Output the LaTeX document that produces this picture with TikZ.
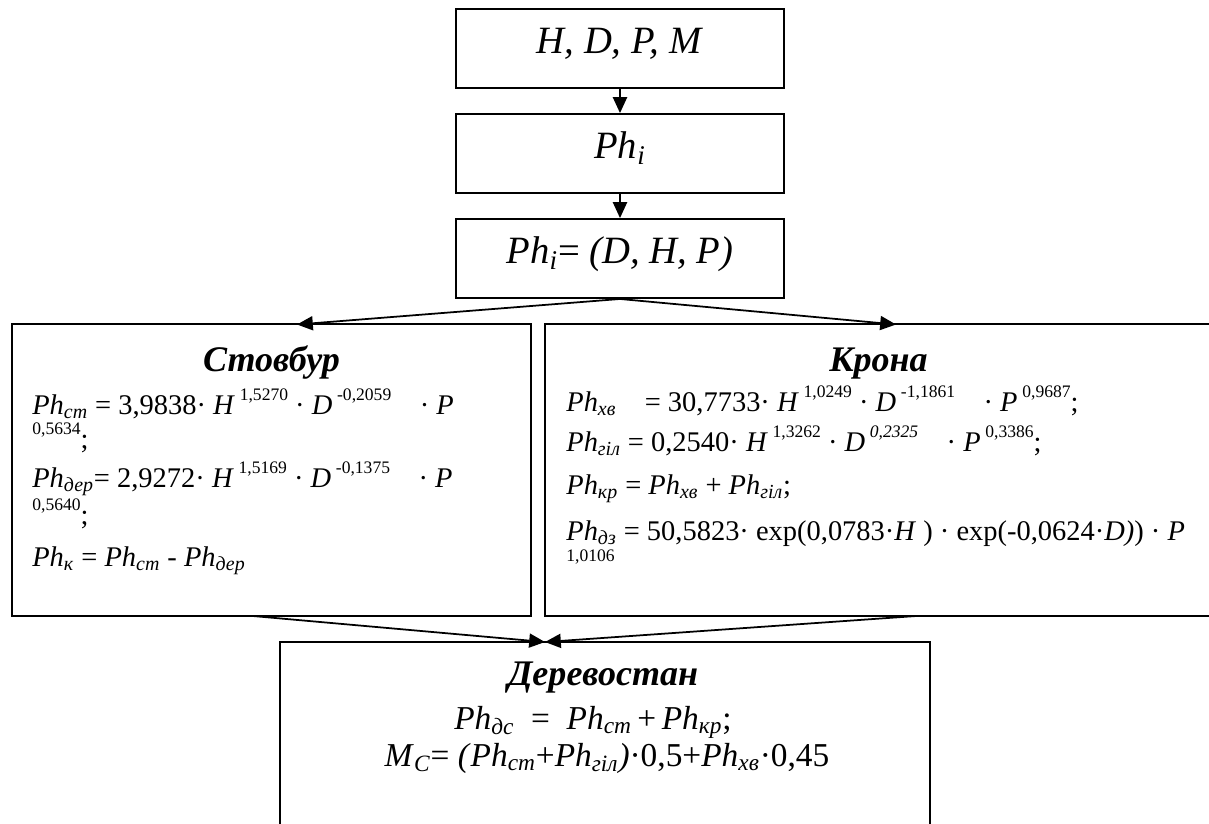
\documentclass[tikz,border=0pt]{standalone}
\usepackage{fontspec}
\setmainfont{Liberation Serif}
\usetikzlibrary{arrows.meta}

\newcommand{\Ph}[1]{\textit{Ph}\textsubscript{\textit{#1}}}
\newcommand{\pw}[1]{\raisebox{0.48em}{\fontsize{10}{12}\selectfont #1}}

\tikzset{
  block/.style={draw, line width=1.1pt, rectangle, inner sep=0pt},
  topblock/.style={block, minimum width=6.56cm, minimum height=1.58cm, font=\fontsize{22}{26}\selectfont, text height=13pt, text depth=7pt},
  heading/.style={anchor=base, inner sep=0pt, font=\fontsize{20.5}{24}\selectfont\bfseries\itshape},
  formula/.style={anchor=base west, inner sep=0pt, font=\fontsize{16.2}{20}\selectfont},
  flow/.style={draw, line width=1pt, -{Triangle[length=9pt,width=8pt]}},
}

\begin{document}
\begin{tikzpicture}[x=0.02cm, y=-0.02cm]
\useasboundingbox (0,0) rectangle (1209,823);

        % chain at the top
        \node[topblock] (input) at (620,48.5) {\textit{H, D, P, M}};
        \node[topblock] (phi) at (620,153.5) {\Ph{i}};
        \node[topblock] (phifun) at (620,258.5) {\Ph{i}= \textit{(D, H, P)}};

        % stem
        \node[block, minimum width=10.38cm, minimum height=5.83cm] (stem) at (271.5,470) {};
        \node[heading] (stemhead) at (271.5,371) {Стовбур};
        \node[formula] (st1) at (32,414) {\Ph{ст} = 3,9838· \textit{H}\,\pw{1,5270} · \textit{D}\,\pw{-0,2059}\quad · \textit{P}};
        \node[formula] (st2) at (32,448) {\pw{0,5634};};
        \node[formula] (st3) at (32,487) {\Ph{дер}= 2,9272· \textit{H}\,\pw{1,5169} · \textit{D}\,\pw{-0,1375}\quad · \textit{P}};
        \node[formula] (st4) at (32,524) {\pw{0,5640};};
        \node[formula] (st5) at (32,566) {\Ph{к} = \Ph{ст} - \Ph{дер}};

        % crown
        \node[block, minimum width=13.34cm, minimum height=5.83cm] (crown) at (878.5,470) {};
        \node[heading] (crownhead) at (878.5,371) {Крона};
        \node[formula] (cr1) at (566,411) {\Ph{хв}\quad = 30,7733· \textit{H}\,\pw{1,0249} · \textit{D}\,\pw{-1,1861}\quad · \textit{P}\,\pw{0,9687};};
        \node[formula] (cr2) at (566,451) {\Ph{гіл} = 0,2540· \textit{H}\,\pw{1,3262} · \textit{D}\,\pw{\textit{0,2325}}\quad · \textit{P}\,\pw{0,3386};};
        \node[formula] (cr3) at (566,494) {\Ph{кр} = \Ph{хв} + \Ph{гіл};};
        \node[formula] (cr4) at (566,540) {\Ph{дз} = 50,5823· exp(0,0783·\textit{H} ) · exp(-0,0624·\textit{D)}) · \textit{P}};
        \node[formula, font=\fontsize{10}{12}\selectfont] (cr5) at (566,561) {1,0106};

        % stand
        \node[block, minimum width=13cm, minimum height=5.16cm] (stand) at (605,771) {};
        \node[heading] (standhead) at (603,685) {Деревостан};
        \node[formula, anchor=base, font=\fontsize{19}{23}\selectfont] (ds1) at (593,729) {\Ph{дс}\enspace=\enspace\Ph{ст}\,+\,\Ph{кр};};
        \node[formula, anchor=base, font=\fontsize{19}{23}\selectfont] (ds2) at (607,766) {\textit{M}\textsubscript{\textit{C}}= \textit{(}\Ph{ст}+\Ph{гіл}\textit{)}·0,5+\Ph{хв}·0,45};

        \coordinate (stemin) at (297,324.5);
        \coordinate (crownin) at (896,324.5);
        \coordinate (stemout) at (253,616);
        \coordinate (crownout) at (916,616);
        \coordinate (join) at (545,642);

        \path[flow] (input) -- (phi);
        \path[flow] (phi) -- (phifun);
        \path[flow] (phifun.south) -- (stemin);
        \path[flow] (phifun.south) -- (crownin);
        \path[flow] (stemout) -- (join);
        \path[flow] (crownout) -- (join);
\end{tikzpicture}
\end{document}
